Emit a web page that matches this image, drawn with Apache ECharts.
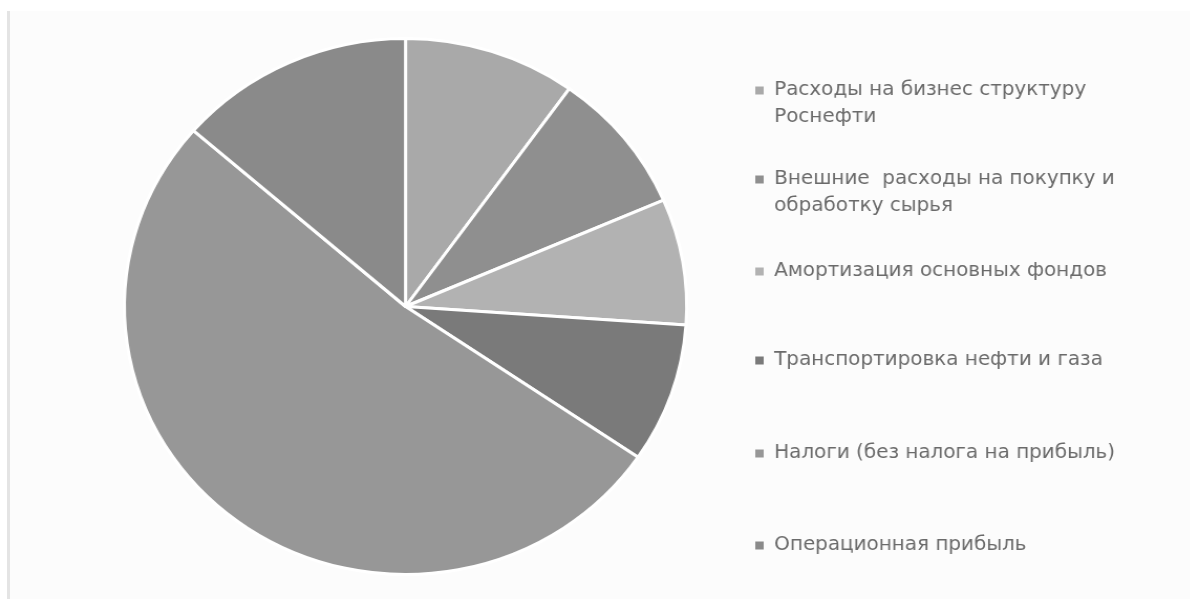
<!DOCTYPE html>
<html>
<head>
<meta charset="utf-8">
<script src="https://cdn.jsdelivr.net/npm/echarts@6/dist/echarts.min.js"></script>
<style>
  html, body { margin: 0; padding: 0; background: #ffffff; width: 1190px; height: 599px; overflow: hidden; }
  #frame { position: absolute; left: 7px; top: 11px; right: 0; bottom: 0; background: #fcfcfc; border-left: 3px solid #e4e4e4; }
  #chart { position: absolute; left: 0; top: 0; width: 1134px; height: 599px; transform: scaleX(1.049); transform-origin: 0 0; }
</style>
</head>
<body>
<div id="frame"></div>
<div id="chart"></div>
<script>
// Cost structure shares, %, clockwise from 12 o'clock
const categories = [
  'Расходы на бизнес структуру\nРоснефти',
  'Внешние  расходы на покупку и\nобработку сырья',
  'Амортизация основных фондов',
  'Транспортировка нефти и газа',
  'Налоги (без налога на прибыль)',
  'Операционная прибыль'
];
const values = [9.9, 8.6, 7.6, 8.4, 51.9, 13.6];
const colors = ['#a9a9a9', '#8f8f8f', '#b2b2b2', '#7a7a7a', '#979797', '#8a8a8a'];

// Legend rows: vertical centre of each first text line
const legendRowCenters = [90, 179, 271, 360, 453, 545];

const LINE_H = 27;
const SQ = 8;
// Square marker in the top-left corner of the icon box; a tiny point widens the box
// so the text starts further right and, for two-line names, sits the square by the first line.
function iconFor(name) {
  const twoLines = name.indexOf('\n') >= 0;
  const h = twoLines ? LINE_H + SQ : SQ;
  return {
    icon: 'path://M0,0H' + SQ + 'V' + SQ + 'H0Z M12.99,' + (h - 0.01) + 'H13V' + h + 'H12.99Z',
    h: h
  };
}

const legends = categories.map((name, i) => {
  const ic = iconFor(name);
  return {
    data: [{ name: name, icon: ic.icon }],
    left: 720,
    top: legendRowCenters[i] - LINE_H / 2 + 0.5,
    padding: 0,
    itemWidth: 13,
    itemHeight: ic.h,
    itemStyle: { borderWidth: 0 },
    selectedMode: false,
    textStyle: {
      fontFamily: 'DejaVu Sans',
      fontSize: 19,
      color: '#6a6a6a',
      lineHeight: LINE_H
    }
  };
});

const chart = echarts.init(document.getElementById('chart'), null, { renderer: 'canvas' });
chart.setOption({
  animation: false,
  color: colors,
  legend: legends,
  series: [{
    type: 'pie',
    center: [386.6, 306.5],
    radius: 268,
    startAngle: 90,
    clockwise: true,
    label: { show: false },
    labelLine: { show: false },
    emphasis: { disabled: true },
    itemStyle: { borderColor: '#ffffff', borderWidth: 3 },
    data: categories.map((name, i) => ({ name: name, value: values[i] }))
  }]
});
</script>
</body>
</html>
